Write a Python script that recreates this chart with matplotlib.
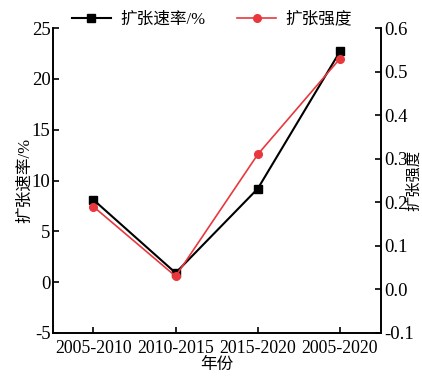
import matplotlib as mpl
mpl.use('Agg')
import matplotlib.pyplot as plt
from matplotlib.ticker import MultipleLocator, FormatStrFormatter

# Periods and the two expansion indices
periods = ['2005-2010', '2010-2015', '2015-2020', '2005-2020']
rate = [8.1, 0.9, 9.2, 22.7]          # expansion rate, %
intensity = [0.19, 0.03, 0.31, 0.53]  # expansion intensity

plt.rcParams['font.family'] = ['Liberation Serif', 'Noto Sans CJK SC']
plt.rcParams['font.size'] = 13
plt.rcParams['axes.linewidth'] = 1.2
plt.rcParams['axes.unicode_minus'] = False

fig = plt.figure(figsize=(4.22, 3.8), dpi=100)
ax = fig.add_axes([0.126, 0.124, 0.777, 0.802])
ax2 = ax.twinx()

x = list(range(len(periods)))
l1, = ax.plot(x, rate, color='black', marker='s', markersize=6,
              linewidth=1.5, label='扩张速率/%', zorder=3)
l2, = ax2.plot(x, intensity, color='#e8383d', marker='o', markersize=5.5,
               linewidth=1.2, label='扩张强度', zorder=4)

ax.set_xlim(-0.49, 3.5)
ax.set_ylim(-5, 25)
ax2.set_ylim(-0.1, 0.6)
ax.yaxis.set_major_locator(MultipleLocator(5))
ax2.yaxis.set_major_locator(MultipleLocator(0.1))
ax2.yaxis.set_major_formatter(FormatStrFormatter('%.1f'))

ax.set_xticks(x)
ax.set_xticklabels(periods, fontsize=12.8)

for a in (ax, ax2):
    a.spines['top'].set_visible(False)
    a.tick_params(direction='in', length=4, width=1.2, labelsize=13.5)
ax.tick_params(axis='x', labelsize=12.8, pad=5)
ax.tick_params(axis='y', pad=2)
ax2.tick_params(axis='y', pad=2)

ax.set_xlabel('年份', fontsize=12, labelpad=0)
ax.set_ylabel('扩张速率/%', fontsize=12, labelpad=-1)
ax2.set_ylabel('扩张强度', fontsize=11)
ax2.yaxis.set_label_coords(1.078, 0.5)

fig.legend(handles=[l1, l2], loc='center', bbox_to_anchor=(0.503, 0.948),
           ncol=2, frameon=False, fontsize=12, handlelength=2.3,
           columnspacing=1.9, handletextpad=0.6)

fig.savefig('out.png', dpi=100)
